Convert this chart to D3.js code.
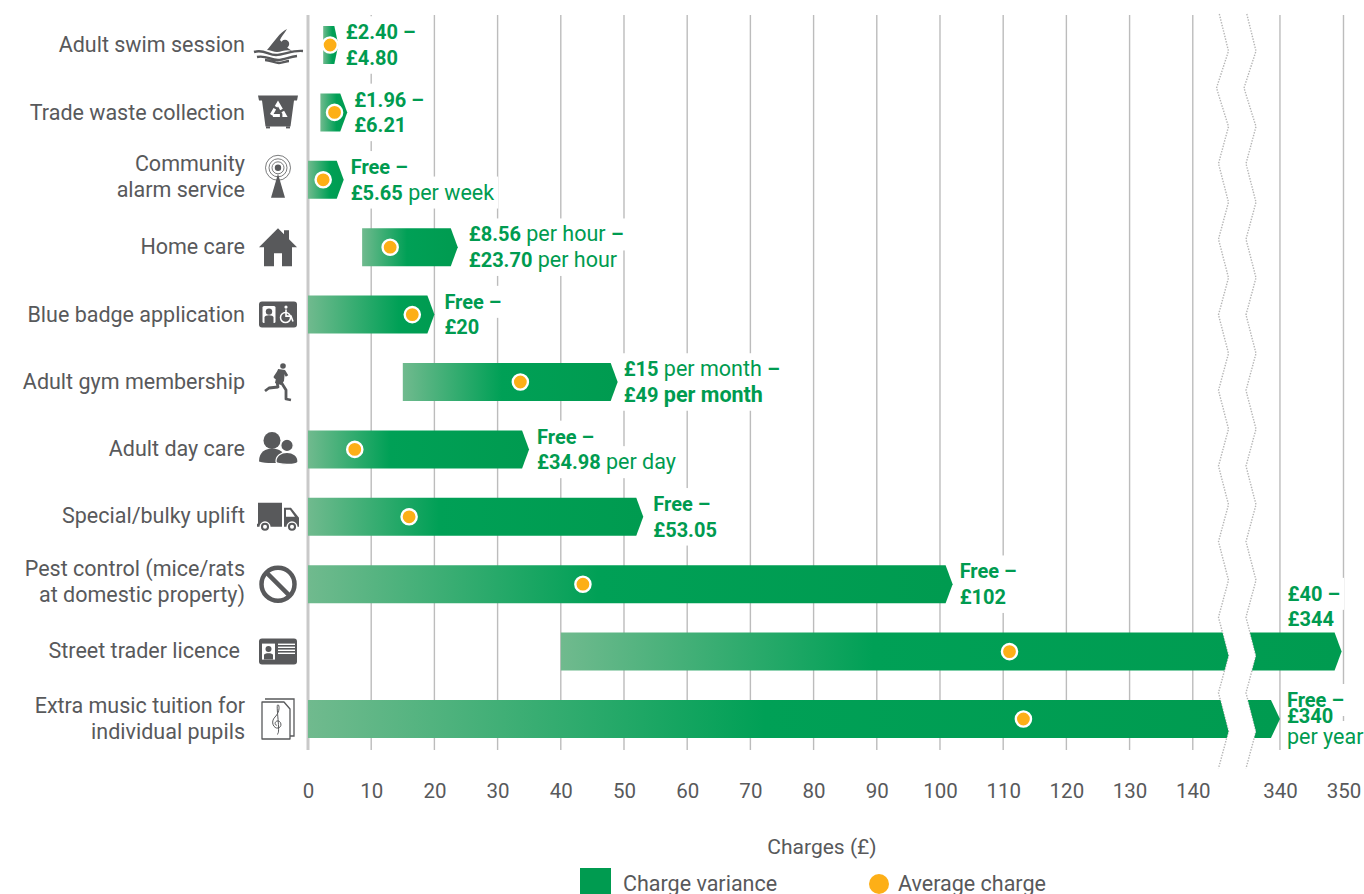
<!DOCTYPE html>
<html>
<head>
<meta charset="utf-8">
<script src="https://cdn.jsdelivr.net/npm/d3@7"></script>
<style>
  html, body { margin: 0; padding: 0; background: #fff; overflow: hidden; }
  svg { display: block; font-family: Roboto, sans-serif; }
</style>
</head>
<body>
<svg id="chart" width="1364" height="894"></svg>
<script>
// Data
var categories = ["Adult swim session", "Trade waste collection", "Community\nalarm service", "Home care",
    "Blue badge application", "Adult gym membership", "Adult day care", "Special/bulky uplift",
    "Pest control (mice/rats\nat domestic property)", "Street trader licence", "Extra music tuition for\nindividual pupils"];
var lowCharge = [2.4, 1.96, 0, 8.56, 0, 15, 0, 0, 0, 40, 0];
var highCharge = [4.8, 6.21, 5.65, 23.7, 20, 49, 34.98, 53.05, 102, 349.7, 340];
var averageCharge = [3.5, 4.2, 2.4, 13, 16.5, 33.6, 7.4, 16, 43.5, 111, 113.2];
var tickLabels = [0, 10, 20, 30, 40, 50, 60, 70, 80, 90, 100, 110, 120, 130, 140, 340, 350];

// [text, bold] runs for every line of every range label
var rangeLabels = [
    [[["£2.40 –", 1]], [["£4.80", 1]]],
    [[["£1.96 –", 1]], [["£6.21", 1]]],
    [[["Free –", 1]], [["£5.65", 1], [" per week", 0]]],
    [[["£8.56", 1], [" per hour ", 0], ["–", 1]], [["£23.70", 1], [" per hour", 0]]],
    [[["Free –", 1]], [["£20", 1]]],
    [[["£15", 1], [" per month ", 0], ["–", 1]], [["£49", 1], [" per month", 1]]],
    [[["Free –", 1]], [["£34.98", 1], [" per day", 0]]],
    [[["Free –", 1]], [["£53.05", 1]]],
    [[["Free –", 1]], [["£102", 1]]],
    [[["£40 –", 1]], [["£344", 1]]],
    [[["Free –", 1]], [["£340", 1]], [["per year", 0]]]
];
var labelGap = [7.5, 7, 7, 11, 10, 6, 8, 10, 7, -54, 7];
// how far along each bar the light green fades out, and small nudges for the row names
var fadeEnd = [0.6, 0.6, 0.6, 0.47, 0.72, 0.46, 0.37, 0.39, 0.45, 0.4, 0.47];
var nameShift = [0, 1, -3, 0, 0, 0, 0, -1, -2, -1, 0];

var green = "#009b50", orange = "#fdaf17", grey = "#58595b";

var svg = d3.select("#chart");
var defs = svg.append("defs");

// Axis is cut between 146 and 335.6
var x = d3.scaleLinear()
    .domain([0, 146, 335.6, 350])
    .range([308, 1230.7, 1252, 1343.5]);

var y = d3.scalePoint()
    .domain(d3.range(categories.length))
    .range([45, 719]);

var barHeight = 38, gridTop = 15, gridBottom = 750;

// One gradient per bar
fadeEnd.forEach(function(f, i) {
    var grad = defs.append("linearGradient").attr("id", "barFill" + i);
    grad.append("stop").attr("offset", 0).attr("stop-color", "#70ba8e");
    grad.append("stop").attr("offset", f).attr("stop-color", "#00a056");
    grad.append("stop").attr("offset", 1).attr("stop-color", green);
});

// The two wavy break lines
var wave = [[1219.3, 14]];
d3.range(10).forEach(function(i) {
    wave.push([1228.5, 51 + i * 75.6]);
    wave.push([i == 0 ? 1216.5 : 1218.5, 88 + i * 75.6]);
});
var breakOffset = 27.5;
var waveLine = d3.line();
var wave2 = wave.map(function(p) { return [p[0] + breakOffset, p[1]]; });

defs.append("clipPath").attr("id", "breakClip")
    .append("path")
    .attr("d", "M0,14L" + wave.join("L") + "L0,770Z" + "M1364,14L" + wave2.join("L") + "L1364,770Z");

var gridLayer = svg.append("g");
var boxLayer = svg.append("g");
var waveLayer = svg.append("g");
var barLayer = svg.append("g").attr("clip-path", "url(#breakClip)");
var dotLayer = svg.append("g");
var textLayer = svg.append("g");

// Gridlines
gridLayer.selectAll("line")
    .data(tickLabels)
    .enter().append("line")
    .attr("x1", function(d) { return x(d); })
    .attr("x2", function(d) { return x(d); })
    .attr("y1", gridTop)
    .attr("y2", gridBottom)
    .attr("stroke", function(d) { return d == 0 ? "#c9c9c9" : "#bcbcbc"; })
    .attr("stroke-width", function(d) { return d == 0 ? 3 : 1.4; });

waveLayer.selectAll("path")
    .data([wave, wave2])
    .enter().append("path")
    .attr("d", waveLine)
    .attr("fill", "none")
    .attr("stroke", "#b5b5b5")
    .attr("stroke-width", 1.4)
    .attr("stroke-dasharray", "1.4 1.4");

// Bars with an arrow tip on the right
function barPath(d, i) {
    var left = x(lowCharge[i]), right = x(highCharge[i]);
    var tip = right - left < 20 ? 4 : (i == 10 ? 9 : 7);
    var p = d3.path(), top = y(i) - barHeight / 2, bottom = y(i) + barHeight / 2;
    p.moveTo(left, top);
    p.lineTo(right - tip, top);
    p.lineTo(right, y(i));
    p.lineTo(right - tip, bottom);
    p.lineTo(left, bottom);
    p.closePath();
    return p.toString();
}

barLayer.selectAll("path")
    .data(categories)
    .enter().append("path")
    .attr("d", barPath)
    .attr("fill", function(d, i) { return "url(#barFill" + i + ")"; });

dotLayer.selectAll("circle")
    .data(averageCharge)
    .enter().append("circle")
    .attr("cx", function(d) { return x(d); })
    .attr("cy", function(d, i) { return y(i); })
    .attr("r", 7.6)
    .attr("fill", orange)
    .attr("stroke", "#fff")
    .attr("stroke-width", 2.4);

// Category labels
categories.forEach(function(name, i) {
    var lines = name.split("\n");
    var t = textLayer.append("text")
        .attr("text-anchor", "end")
        .attr("fill", grey)
        .attr("font-size", 21.5);
    lines.forEach(function(line, j) {
        t.append("tspan")
            .attr("x", i == 9 ? 240 : 245)
            .attr("y", y(i) + 7 + nameShift[i] + (j - (lines.length - 1) / 2) * 26)
            .text(line);
    });
});

// Range labels, each line with a white box that hides the gridlines behind it
rangeLabels.forEach(function(lines, i) {
    var left = x(highCharge[i]) + labelGap[i];
    var step = 25.5;
    var base = i == 9 ? y(i) - 45 : y(i);
    lines.forEach(function(runs, j) {
        var yPos = i == 10 ? y(i) + [-19, -3, 18][j] : base + (j - 0.5) * step;
        var t = textLayer.append("text")
            .attr("x", left)
            .attr("y", yPos + 7)
            .attr("fill", green);
        t.selectAll("tspan")
            .data(runs)
            .enter().append("tspan")
            .attr("font-weight", function(r) { return r[1] ? 700 : 400; })
            .attr("font-size", function(r) { return r[0].indexOf("per") >= 0 ? 21.5 : 20; })
            .style("white-space", "pre")
            .text(function(r) { return r[0]; });
        var box = t.node().getBBox();
        boxLayer.append("rect")
            .attr("x", box.x - 6)
            .attr("width", box.width + 10)
            .attr("y", yPos - 16)
            .attr("height", 32)
            .attr("fill", "#fff");
    });
});

// Bottom axis
var axis = svg.append("g")
    .attr("transform", "translate(0,780)")
    .call(d3.axisBottom(x).tickValues(tickLabels).tickFormat(d3.format("d")).tickSize(0));
axis.select(".domain").remove();
axis.selectAll("text")
    .attr("y", 3)
    .attr("dy", "0.71em")
    .attr("font-family", "Roboto, sans-serif")
    .attr("font-size", 20.5)
    .attr("fill", grey);

svg.append("text")
    .attr("x", 822)
    .attr("y", 854)
    .attr("text-anchor", "middle")
    .attr("font-size", 21)
    .attr("fill", grey)
    .text("Charges (£)");

// Legend
svg.append("rect").attr("x", 580).attr("y", 868).attr("width", 31).attr("height", 26).attr("fill", green);
svg.append("text").attr("x", 623).attr("y", 891).attr("font-size", 21.5).attr("fill", grey).text("Charge variance");
svg.append("circle").attr("cx", 879).attr("cy", 884).attr("r", 10).attr("fill", orange);
svg.append("text").attr("x", 898).attr("y", 891).attr("font-size", 21.5).attr("fill", grey).text("Average charge");

// Icons, one small drawing per row, centred on x = 278
var iconLayer = svg.append("g");
function icon(i) {
    return iconLayer.append("g")
        .attr("transform", "translate(278," + y(i) + ")")
        .attr("fill", grey);
}
var g;

// swimmer
g = icon(0);
g.append("circle").attr("cx", 7).attr("cy", -1).attr("r", 4.2);
g.append("path").attr("d", "M-11,5C-4,-3 2,-13 9,-16C6,-11 3,-8 2,-5C5,-1 9,3 14,6C8,4 4,7 -1,7C-4,7 -8,5 -11,5Z");
g.append("path").attr("fill", "none").attr("stroke", grey).attr("stroke-width", 2.4)
    .attr("d", "M-24,7C-14,4 -10,10 -2,10C6,10 14,5 25,6M-21,12C-12,10 -8,15 0,15C6,15 11,12 19,11M-13,15C-8,15 -3,18 1,18C5,18 8,16 11,16");

// bin
g = icon(1);
g.append("path").attr("d", "M-20,-17H20L19,-12H16L12.5,14H-12.5L-16,-12H-19Z");
g.append("rect").attr("x", -12).attr("y", 14).attr("width", 4).attr("height", 2);
g.append("rect").attr("x", 8).attr("y", 14).attr("width", 4).attr("height", 2);
g.append("path").attr("fill", "none").attr("stroke", "#fff").attr("stroke-width", 3)
    .attr("stroke-dasharray", "7 2.5")
    .attr("d", "M0,-9L7,3H-7Z");

// alarm mast
g = icon(2);
g.append("circle").attr("cy", -12).attr("r", 3.2);
[6, 9, 12.5].forEach(function(r) {
    g.append("circle").attr("cy", -12).attr("r", r).attr("fill", "none").attr("stroke", grey).attr("stroke-width", 0.8);
});
g.append("path").attr("d", "M0,-6L7,18H-7Z");

// house
g = icon(3);
g.append("path").attr("d", "M-19,0L0,-19L6,-13V-17H11V-8L19,0H14V19H4V6H-4V19H-14V0Z");

// blue badge
g = icon(4);
g.append("rect").attr("x", -19).attr("y", -13).attr("width", 38).attr("height", 26).attr("rx", 3);
g.append("rect").attr("x", -15.5).attr("y", -8.5).attr("width", 13).attr("height", 17).attr("rx", 1.5).attr("fill", "#fff");
g.append("circle").attr("cx", -9).attr("cy", -3).attr("r", 3.2);
g.append("path").attr("d", "M-13.5,8.5V3C-13.5,0 -4.5,0 -4.5,3V8.5Z");
g.append("circle").attr("cx", 8).attr("cy", -7.5).attr("r", 1.6).attr("fill", "#fff");
g.append("circle").attr("cx", 7.5).attr("cy", 3).attr("r", 5).attr("fill", "none").attr("stroke", "#fff").attr("stroke-width", 1.5);
g.append("path").attr("fill", "none").attr("stroke", "#fff").attr("stroke-width", 1.6).attr("d", "M8,-5V1.5H13L15,7");

// runner
g = icon(5);
g.append("circle").attr("cx", 5).attr("cy", -16).attr("r", 2.8);
g.append("path").attr("d", "M0,-13L7,-12L6,-1L3,3L-3,1Z");
g.append("path").attr("fill", "none").attr("stroke", grey).attr("stroke-width", 2.8).attr("stroke-linejoin", "round")
    .attr("d", "M-1,0L0,5L-9,6L-13,9M3,0L8,8L8,17L13,18M1,-11L-3,-5L0,-3M6,-11L9,-6");

// people
g = icon(6);
g.append("circle").attr("cx", -6).attr("cy", -9).attr("r", 8.5);
g.append("path").attr("d", "M-19,12C-19,2 -12,-1 -6,-1C1,-1 7,2 7,12C0,14 -12,14 -19,12Z");
g.append("circle").attr("cx", 9).attr("cy", -4).attr("r", 6.2).attr("stroke", "#fff").attr("stroke-width", 1.2);
g.append("path").attr("stroke", "#fff").attr("stroke-width", 1.2).attr("d", "M-2,12C-2,6 3,3 9,3C15,3 20,6 20,12C20,16 -2,16 -2,12Z");

// truck
g = icon(7);
g.append("path").attr("d", "M-20,-14H4V10H-21V7H-20ZM6,-9H13L21,1V10H6Z");
g.append("path").attr("fill", "#fff").attr("d", "M8,-7H12L17,0H8Z");
[-12, 15].forEach(function(cx) {
    g.append("circle").attr("cx", cx - 1).attr("cy", 10).attr("r", 4.8).attr("stroke", "#fff").attr("stroke-width", 1.5);
    g.append("circle").attr("cx", cx - 1).attr("cy", 10).attr("r", 2).attr("fill", "#fff");
});

// no entry sign
g = icon(8);
g.append("circle").attr("r", 16.5).attr("fill", "none").attr("stroke", grey).attr("stroke-width", 4.5);
g.append("line").attr("x1", -11).attr("y1", -11).attr("x2", 11).attr("y2", 11).attr("stroke", grey).attr("stroke-width", 4.5);

// id card
g = icon(9);
g.append("rect").attr("x", -19).attr("y", -13).attr("width", 38).attr("height", 26).attr("rx", 3);
g.append("rect").attr("x", -16).attr("y", -8).attr("width", 13).attr("height", 16).attr("fill", "#fff");
g.append("circle").attr("cx", -9.5).attr("cy", -2.5).attr("r", 3);
g.append("path").attr("d", "M-14,8V3.5C-14,1 -5,1 -5,3.5V8Z");
[-8, -5, -2, 1].forEach(function(ly) {
    g.append("rect").attr("x", 0).attr("y", ly).attr("width", 17).attr("height", 1.4).attr("fill", "#fff");
});

// music sheet
g = icon(10);
g.append("path").attr("fill", "#fff").attr("stroke", grey).attr("stroke-width", 1.3)
    .attr("d", "M-13,-20H16V17H12");
g.append("path").attr("fill", "#fff").attr("stroke", grey).attr("stroke-width", 1.3).attr("stroke-linejoin", "round")
    .attr("d", "M-16,-17H6L12,-10V20H-16Z");
g.append("path").attr("fill", "none").attr("stroke", grey).attr("stroke-width", 1)
    .attr("d", "M-1,15C3,17 -2,-12 -0.5,-14C1,-16 3,-8 -3,-2C-8,3 -4,10 0,9C5,8 3,1 -1,2C-4,3 -3,7 -1,6");
</script>
</body>
</html>
